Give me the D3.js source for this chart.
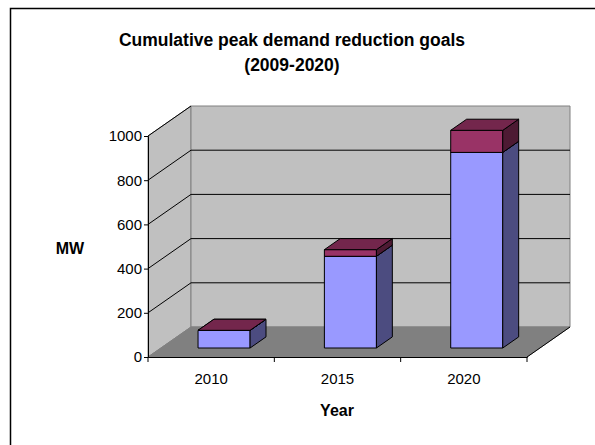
<!DOCTYPE html>
<html>
<head>
<meta charset="utf-8">
<script src="https://cdn.jsdelivr.net/npm/d3@7"></script>
<style>
  body { margin: 0; background: #fff; }
  text { font-family: "Liberation Sans", Arial, sans-serif; }
</style>
</head>
<body>
<div id="chart"></div>
<script>
// data
const years = ["2010", "2015", "2020"];
const baseGoal = [80, 415, 885];     // lower segment (blue)
const extraGoal = [0, 30, 100];      // upper segment (red)
const yTicks = [0, 200, 400, 600, 800, 1000];

function drawChart() {
    let width = 595, height = 445;

    let svg = d3.select("#chart")
        .append("svg")
        .attr("width", width)
        .attr("height", height);

    // outer frame
    svg.append("rect")
        .attr("x", 10.5).attr("y", 8.5)
        .attr("width", 600).attr("height", 460)
        .attr("fill", "#fff")
        .attr("stroke", "#000")
        .attr("stroke-width", 1.5);

    // front plane scales
    let x = d3.scaleBand()
        .domain(years)
        .range([148, 527])
        .paddingInner(0.588)
        .paddingOuter(0.294);

    let y = d3.scaleLinear()
        .domain([0, 1000])
        .range([357, 136]);

    // depth of the 3d box
    let depthX = 43, depthY = -30;
    function pt(px, v, f) {
        return [px + f * depthX, y(v) + f * depthY];
    }
    function poly(points) {
        return points.map(p => p.join(",")).join(" ");
    }

    let x0 = x.range()[0], x1 = x.range()[1];

    // left side wall
    svg.append("polygon")
        .attr("points", poly([pt(x0, 0, 0), pt(x0, 0, 1), pt(x0, 1000, 1), pt(x0, 1000, 0)]))
        .attr("fill", "#c0c0c0")
        .attr("stroke", "#808080");

    // back wall
    svg.append("polygon")
        .attr("points", poly([pt(x0, 0, 1), pt(x1, 0, 1), pt(x1, 1000, 1), pt(x0, 1000, 1)]))
        .attr("fill", "#c0c0c0")
        .attr("stroke", "#808080");

    // floor
    svg.append("polygon")
        .attr("points", poly([pt(x0, 0, 0), pt(x1, 0, 0), pt(x1, 0, 1), pt(x0, 0, 1)]))
        .attr("fill", "#808080")
        .attr("stroke", "#808080");

    // floor right edge
    svg.append("line")
        .attr("x1", pt(x1, 0, 0)[0]).attr("y1", pt(x1, 0, 0)[1])
        .attr("x2", pt(x1, 0, 1)[0]).attr("y2", pt(x1, 0, 1)[1])
        .attr("stroke", "#000");

    // gridlines: side wall diagonal + back wall horizontal
    let grid = yTicks.filter(d => d > 0 && d < 1000);
    svg.selectAll(".gridBack")
        .data(grid)
        .enter()
        .append("line")
        .attr("x1", pt(x0, 0, 1)[0])
        .attr("x2", pt(x1, 0, 1)[0])
        .attr("y1", d => pt(x0, d, 1)[1])
        .attr("y2", d => pt(x0, d, 1)[1])
        .attr("stroke", "#000");

    svg.selectAll(".gridSide")
        .data(yTicks.filter(d => d > 0))
        .enter()
        .append("line")
        .attr("x1", d => pt(x0, d, 0)[0])
        .attr("y1", d => pt(x0, d, 0)[1])
        .attr("x2", d => pt(x0, d, 1)[0])
        .attr("y2", d => pt(x0, d, 1)[1])
        .attr("stroke", "#000");

    // bars
    let fFront = 0.3, fBack = 0.67;
    let series = [
        { values: baseGoal, front: "#9999ff", top: "#7373bf", side: "#4c4c80" },
        { values: extraGoal, front: "#993366", top: "#73264c", side: "#4d1a33" }
    ];

    years.forEach(function(yr, i) {
        let bx0 = x(yr), bx1 = x(yr) + x.bandwidth();
        let start = 0;
        series.forEach(function(s) {
            let v0 = start, v1 = start + s.values[i];
            start = v1;
            let g = svg.append("g").attr("class", "bar");
            // front face
            g.append("polygon")
                .attr("points", poly([pt(bx0, v0, fFront), pt(bx1, v0, fFront), pt(bx1, v1, fFront), pt(bx0, v1, fFront)]))
                .attr("fill", s.front).attr("stroke", "#000").attr("stroke-width", 1)
                .attr("stroke-linejoin", "round");
            // side face
            g.append("polygon")
                .attr("points", poly([pt(bx1, v0, fFront), pt(bx1, v0, fBack), pt(bx1, v1, fBack), pt(bx1, v1, fFront)]))
                .attr("fill", s.side).attr("stroke", "#000").attr("stroke-width", 1)
                .attr("stroke-linejoin", "round");
            // top face
            g.append("polygon")
                .attr("points", poly([pt(bx0, v1, fFront), pt(bx1, v1, fFront), pt(bx1, v1, fBack), pt(bx0, v1, fBack)]))
                .attr("fill", s.top).attr("stroke", "#000").attr("stroke-width", 1)
                .attr("stroke-linejoin", "round");
        });
    });

    // y axis on the front plane
    let yAxis = svg.append("g")
        .attr("transform", "translate(" + x0 + ",0)")
        .call(d3.axisLeft(y).tickValues(yTicks).tickSize(4).tickPadding(2).tickFormat(d3.format("d")));
    yAxis.attr("font-size", 15).attr("font-family", "'Liberation Sans', Arial, sans-serif");
    yAxis.select(".domain").attr("stroke", "#000");
    yAxis.selectAll("text").attr("fill", "#000");

    // x axis on the front plane
    let xAxis = svg.append("g")
        .attr("transform", "translate(0," + y(0) + ")")
        .call(d3.axisBottom(x).tickSize(0).tickPadding(16));
    xAxis.attr("font-size", 15).attr("font-family", "'Liberation Sans', Arial, sans-serif");
    xAxis.select(".domain").attr("stroke", "#000");
    xAxis.selectAll("text").attr("fill", "#000");

    // category boundary ticks
    let step = x.step();
    let bounds = d3.range(years.length + 1).map(i => x0 + i * step);
    svg.selectAll(".xTick")
        .data(bounds)
        .enter()
        .append("line")
        .attr("x1", d => d).attr("x2", d => d)
        .attr("y1", y(0)).attr("y2", y(0) + 5)
        .attr("stroke", "#000");

    // titles
    svg.append("text")
        .attr("x", 292).attr("y", 46)
        .attr("text-anchor", "middle")
        .attr("font-size", 17.5).attr("font-weight", "bold")
        .text("Cumulative peak demand reduction goals");
    svg.append("text")
        .attr("x", 292).attr("y", 71)
        .attr("text-anchor", "middle")
        .attr("font-size", 17.5).attr("font-weight", "bold")
        .text("(2009-2020)");

    svg.append("text")
        .attr("x", 70).attr("y", 254)
        .attr("text-anchor", "middle")
        .attr("font-size", 16).attr("font-weight", "bold")
        .text("MW");

    svg.append("text")
        .attr("x", 337).attr("y", 416)
        .attr("text-anchor", "middle")
        .attr("font-size", 16).attr("font-weight", "bold")
        .text("Year");
}

window.onload = () => {
    drawChart();
}
</script>
</body>
</html>
